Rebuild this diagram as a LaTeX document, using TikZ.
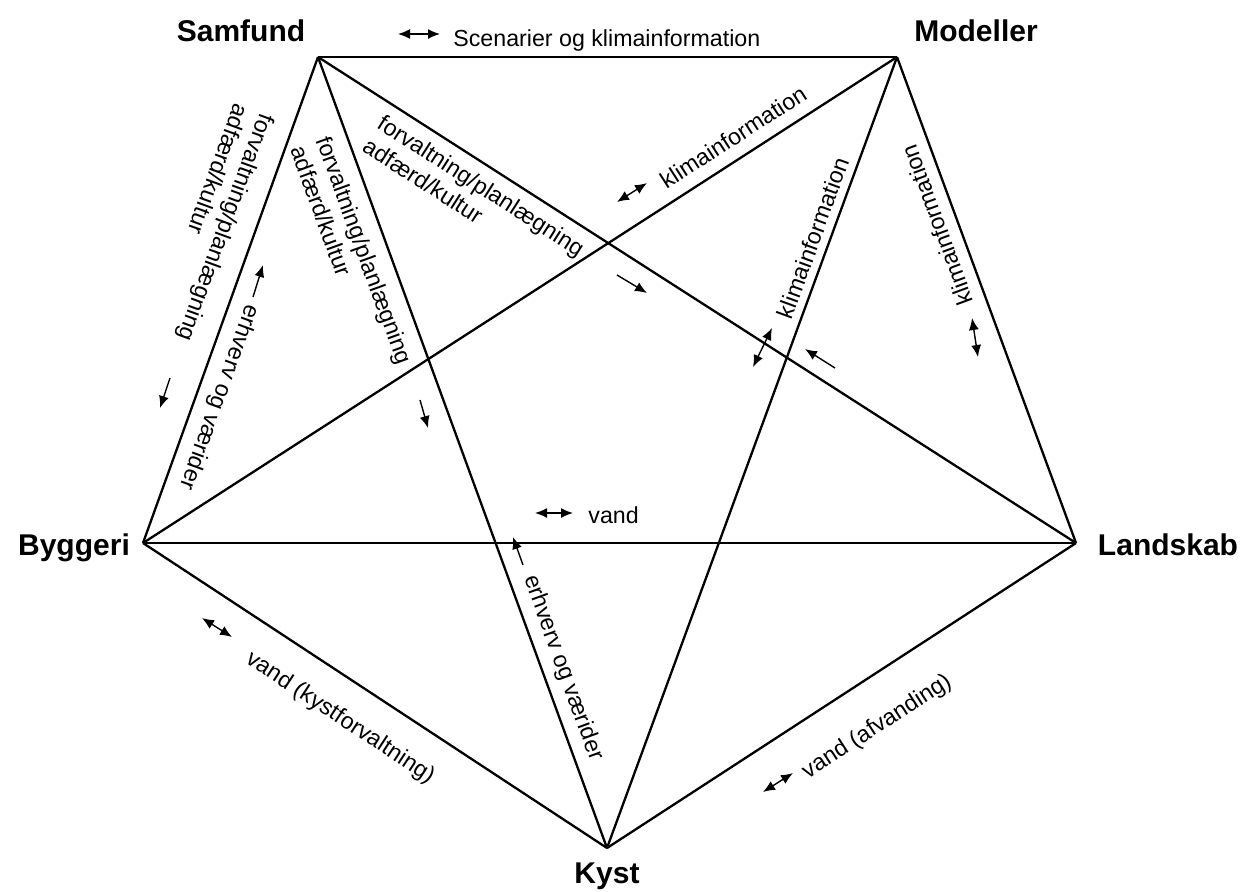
\documentclass[tikz,border=0pt]{standalone}
\usepackage{fontspec}
\setmainfont{Liberation Sans}
\usetikzlibrary{arrows.meta}
\begin{document}
\begin{tikzpicture}[x=0.5pt,y=-0.5pt,
  edge/.style={line width=1.15pt},
  lbl/.style={font=\fontsize{11.6}{13.6}\selectfont, inner sep=0pt},
  blk/.style={lbl, align=left},
  ttl/.style={font=\fontsize{15}{18}\selectfont\bfseries, inner sep=0pt},
  darr/.style={line width=0.7pt,{Latex[length=6pt,width=5pt]}-{Latex[length=6pt,width=5pt]}},
  sarr/.style={line width=0.7pt,-{Latex[length=6pt,width=5pt]}}]
\useasboundingbox (0,0) rectangle (1241,891);
% vertices
\coordinate (S) at (318,57);
\coordinate (M) at (897,57);
\coordinate (L) at (1076,543);
\coordinate (K) at (607,848);
\coordinate (B) at (143,543);
% edges
\draw[edge] (S) -- (M);
\draw[edge] (M) -- (L);
\draw[edge] (L) -- (K);
\draw[edge] (K) -- (B);
\draw[edge] (B) -- (S);
\draw[edge] (S) -- (L);
\draw[edge] (S) -- (K);
\draw[edge] (M) -- (B);
\draw[edge] (M) -- (K);
\draw[edge] (B) -- (L);
% titles
\node[ttl, anchor=base] (tS) at (241,41) {Samfund};
\node[ttl, anchor=base] (tM) at (976,41) {Modeller};
\node[ttl, anchor=base] (tB) at (74,555) {Byggeri};
\node[ttl, anchor=base] (tL) at (1168,555) {Landskab};
\node[ttl, anchor=base] (tK) at (607,883) {Kyst};
% S-M
\draw[darr] (398,34) -- (440,34);
\node[lbl, anchor=base west] (l1) at (453,46) {Scenarier og klimainformation};
% B-S
\node[blk, rotate=-110] (l2) at (214,223) {forvaltning/planlægning\\adfærd/kultur};
\draw[sarr] (170,378) -- (160,408);
\node[lbl, rotate=-110] (l3) at (219,397) {erhverv og værider};
\draw[sarr] (253,297) -- (263,265);
% S-K
\node[blk, rotate=-70] (l4) at (352,255) {forvaltning/planlægning\\adfærd/kultur};
\draw[sarr] (420,400) -- (428,428);
\node[lbl, rotate=-70] (l5) at (563,668) {erhverv og værider};
\draw[sarr] (523,565) -- (513,537);
% S-L
\node[blk, rotate=-32.7] (l6) at (474,197) {forvaltning/planlægning\\adfærd/kultur};
\draw[sarr] (617,275) -- (647,293);
\draw[sarr] (835,368) -- (805,349);
% M-B
\node[lbl, rotate=32.8] (l7) at (733,137) {klimainformation};
\draw[darr] (617,202) -- (647,183);
% M-K
\node[lbl, rotate=69.9] (l8) at (813,238) {klimainformation};
\draw[darr] (753,367) -- (772,328);
% M-L
\node[lbl, rotate=110.2] (l9) at (937,225) {klimainformation};
\draw[darr] (972,318) -- (978,357);
% B-K
\node[lbl, rotate=-33.3] (l10) at (340,718) {vand (kystforvaltning)};
\draw[darr] (202,618) -- (232,637);
% L-K
\node[lbl, rotate=33.0] (l11) at (877,727) {vand (afvanding)};
\draw[darr] (763,792) -- (793,773);
% B-L
\draw[darr] (535,513) -- (573,513);
\node[lbl, anchor=base west] (l12) at (588,523) {vand};
\end{tikzpicture}
\end{document}
